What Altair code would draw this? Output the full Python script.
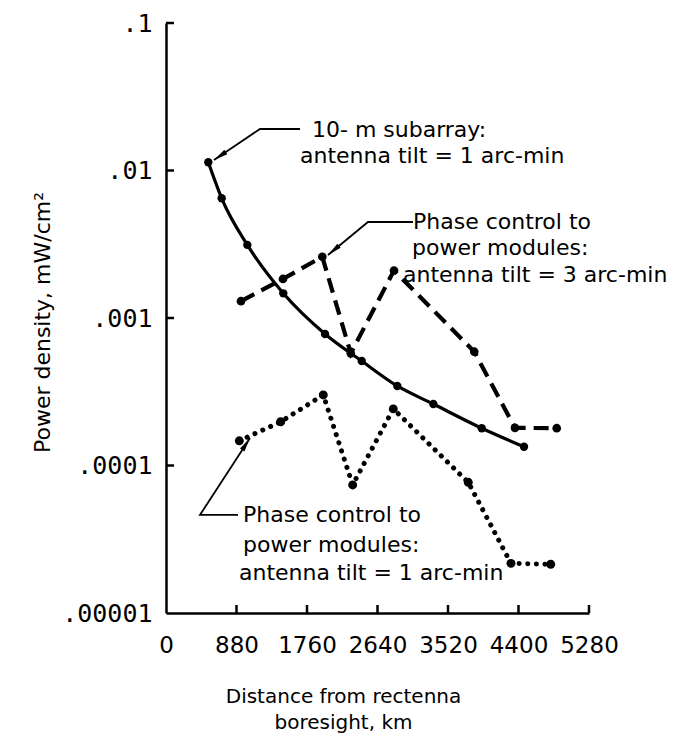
import math
import altair as alt
import pandas as pd

# ---------------- data ----------------
# 10-m subarray: antenna tilt = 1 arc-min (solid curve)
sub_x = [528, 695, 1015, 1464, 1985, 2443, 2887, 3337, 3941, 4469]
sub_y = [0.01137, 0.00648, 0.00313, 0.00147, 0.000779, 0.000511, 0.000346, 0.000261, 0.000179, 0.000134]

# Phase control to power modules: antenna tilt = 3 arc-min (dashed)
ph3_x = [936, 1460, 1951, 2306, 2846, 3848, 4356, 4877]
ph3_y = [0.0013, 0.00184, 0.0026, 0.000576, 0.0021, 0.000591, 0.00018, 0.000179]

# Phase control to power modules: antenna tilt = 1 arc-min (dotted)
ph1_x = [915, 1432, 1963, 2330, 2837, 3773, 4306, 4802]
ph1_y = [0.000147, 0.000198, 0.000301, 0.0000738, 0.000242, 0.0000769, 0.0000217, 0.0000214]

x_ticks = [0, 880, 1760, 2640, 3520, 4400, 5280]
y_ticks = [0.1, 0.01, 0.001, 0.0001, 0.00001]
y_tick_labels = [".1", ".01", ".001", ".0001", ".00001"]

# annotation text lines (anchored in data coordinates)
note_text = ["10- m subarray:", "antenna tilt = 1 arc-min",
             "Phase control to", "power modules:", "antenna tilt = 3 arc-min",
             "Phase control to", "power modules:", "antenna tilt = 1 arc-min"]
note_x = [1822, 1673, 3083, 3071, 2958, 961, 961, 911]
note_y = [0.01687, 0.011238, 0.004014, 0.002674, 0.001754, 0.0000414, 0.0000259, 0.00001674]

# leader arrows (polyline, last point is the arrow tip)
arrow_pts = {
    "a1": [(1673, 0.01912), (1173, 0.01912), (599, 0.01178)],
    "a2": [(3083, 0.004476), (2521, 0.004476), (2022, 0.002674)],
    "a3": [(899, 0.0000462), (424, 0.0000462), (1049, 0.0001536)],
}

# ---------------- layout ----------------
W, H = 423, 590
XMAX = 5280
YMIN, YMAX = 1e-5, 1e-1
FONT = "DejaVu Sans"

def to_px(x, y):
    px = x / XMAX * W
    py = (math.log10(YMAX) - math.log10(y)) / (math.log10(YMAX) - math.log10(YMIN)) * H
    return px, py

sub_df = pd.DataFrame({"x": sub_x, "y": sub_y})
ph3_df = pd.DataFrame({"x": ph3_x, "y": ph3_y})
ph1_df = pd.DataFrame({"x": ph1_x, "y": ph1_y})
note_df = pd.DataFrame({"x": note_x, "y": note_y, "t": note_text})

arr_rows, head_rows = [], []
for k, pts in arrow_pts.items():
    for i, (x, y) in enumerate(pts):
        arr_rows.append({"x": x, "y": y, "id": k, "o": i})
    (x0, y0), (x1, y1) = pts[-2], pts[-1]
    p0, p1 = to_px(x0, y0), to_px(x1, y1)
    dx, dy = p1[0] - p0[0], p1[1] - p0[1]
    ang = math.degrees(math.atan2(dx, -dy)) % 360
    head_rows.append({"x": x1, "y": y1, "ang": ang})
arr_df = pd.DataFrame(arr_rows)
head_df = pd.DataFrame(head_rows)

label_expr = " : ".join(
    f"datum.value > {v * 0.5} ? '{lab}'" for v, lab in zip(y_ticks[:-1], y_tick_labels[:-1])
) + f" : '{y_tick_labels[-1]}'"

x_axis = alt.Axis(
    values=x_ticks, format="d", ticks=False, tickSize=0, grid=False,
    domainColor="black", domainWidth=2.5,
    labelFont="DejaVu Sans", labelFontSize=23, labelColor="black", labelPadding=21,
    labelFlush=False, labelOverlap=False,
    title=["Distance from rectenna", "boresight, km"],
    titleFont=FONT, titleFontSize=20, titleFontWeight="normal", titleColor="black",
    titleBaseline="alphabetic", titleAlign="center", titleX=177, titleY=89, titleLineHeight=26,
)
y_axis = alt.Axis(
    values=y_ticks, labelExpr=label_expr, ticks=False, tickSize=0, grid=False,
    domainColor="black", domainWidth=2.5,
    labelFont="DejaVu Sans Mono", labelFontSize=25, labelColor="black", labelPadding=14,
    labelFlush=False, labelOverlap=False,
    title="Power density, mW/cm²",
    titleFont=FONT, titleFontSize=22, titleFontWeight="normal", titleColor="black",
    titleAngle=270, titleBaseline="alphabetic", titleAlign="center", titleX=-117, titleY=299,
)

X = alt.X("x:Q", scale=alt.Scale(domain=[0, XMAX], nice=False, zero=False), axis=x_axis)
Y = alt.Y("y:Q", scale=alt.Scale(type="log", domain=[YMIN, YMAX], nice=False), axis=y_axis)

solid = alt.Chart(sub_df).mark_line(color="black", strokeWidth=3.2, interpolate="monotone").encode(x=X, y=Y)
solid_pts = alt.Chart(sub_df).mark_point(filled=True, color="black", size=70, opacity=1).encode(x=X, y=Y)

dashed = alt.Chart(ph3_df).mark_line(color="black", strokeWidth=4.2, strokeDash=[15, 8]).encode(x=X, y=Y)
dashed_pts = alt.Chart(ph3_df).mark_point(filled=True, color="black", size=75, opacity=1).encode(x=X, y=Y)

dotted = alt.Chart(ph1_df).mark_line(color="black", strokeWidth=5, strokeDash=[0.1, 8.5],
                                     strokeCap="round").encode(x=X, y=Y)
dotted_pts = alt.Chart(ph1_df).mark_point(filled=True, color="black", size=80, opacity=1).encode(x=X, y=Y)

notes = alt.Chart(note_df).mark_text(
    align="left", baseline="alphabetic", font=FONT, fontSize=22, color="black"
).encode(x=X, y=Y, text="t:N")

arrows = alt.Chart(arr_df).mark_line(color="black", strokeWidth=1.8).encode(
    x=X, y=Y, detail="id:N", order="o:Q")
heads = alt.Chart(head_df).mark_point(
    shape="M0,0L0.4,2.2L-0.4,2.2Z", filled=True, color="black", size=170, opacity=1
).encode(x=X, y=Y, angle=alt.Angle("ang:Q", scale=None))

xt_df = pd.DataFrame({"x": x_ticks[1:]})
yt_df = pd.DataFrame({"y": y_ticks[:-1]})
xticks = alt.Chart(xt_df).mark_rule(color="black", strokeWidth=2.5).encode(
    x=X, y=alt.value(H), y2=alt.value(H - 8))
yticks = alt.Chart(yt_df).mark_rule(color="black", strokeWidth=2.5).encode(
    y=Y, x=alt.value(0), x2=alt.value(8))

chart = alt.layer(
    xticks, yticks, solid, solid_pts, dashed, dashed_pts, dotted, dotted_pts, arrows, heads, notes
).properties(
    width=W, height=H,
    autosize=alt.AutoSizeParams(type="none"),
    padding={"left": 166, "top": 23, "right": 96, "bottom": 121},
    background="white",
).configure_view(stroke=None)

chart.save("out.html", embed_options={"renderer": "svg", "actions": False})
